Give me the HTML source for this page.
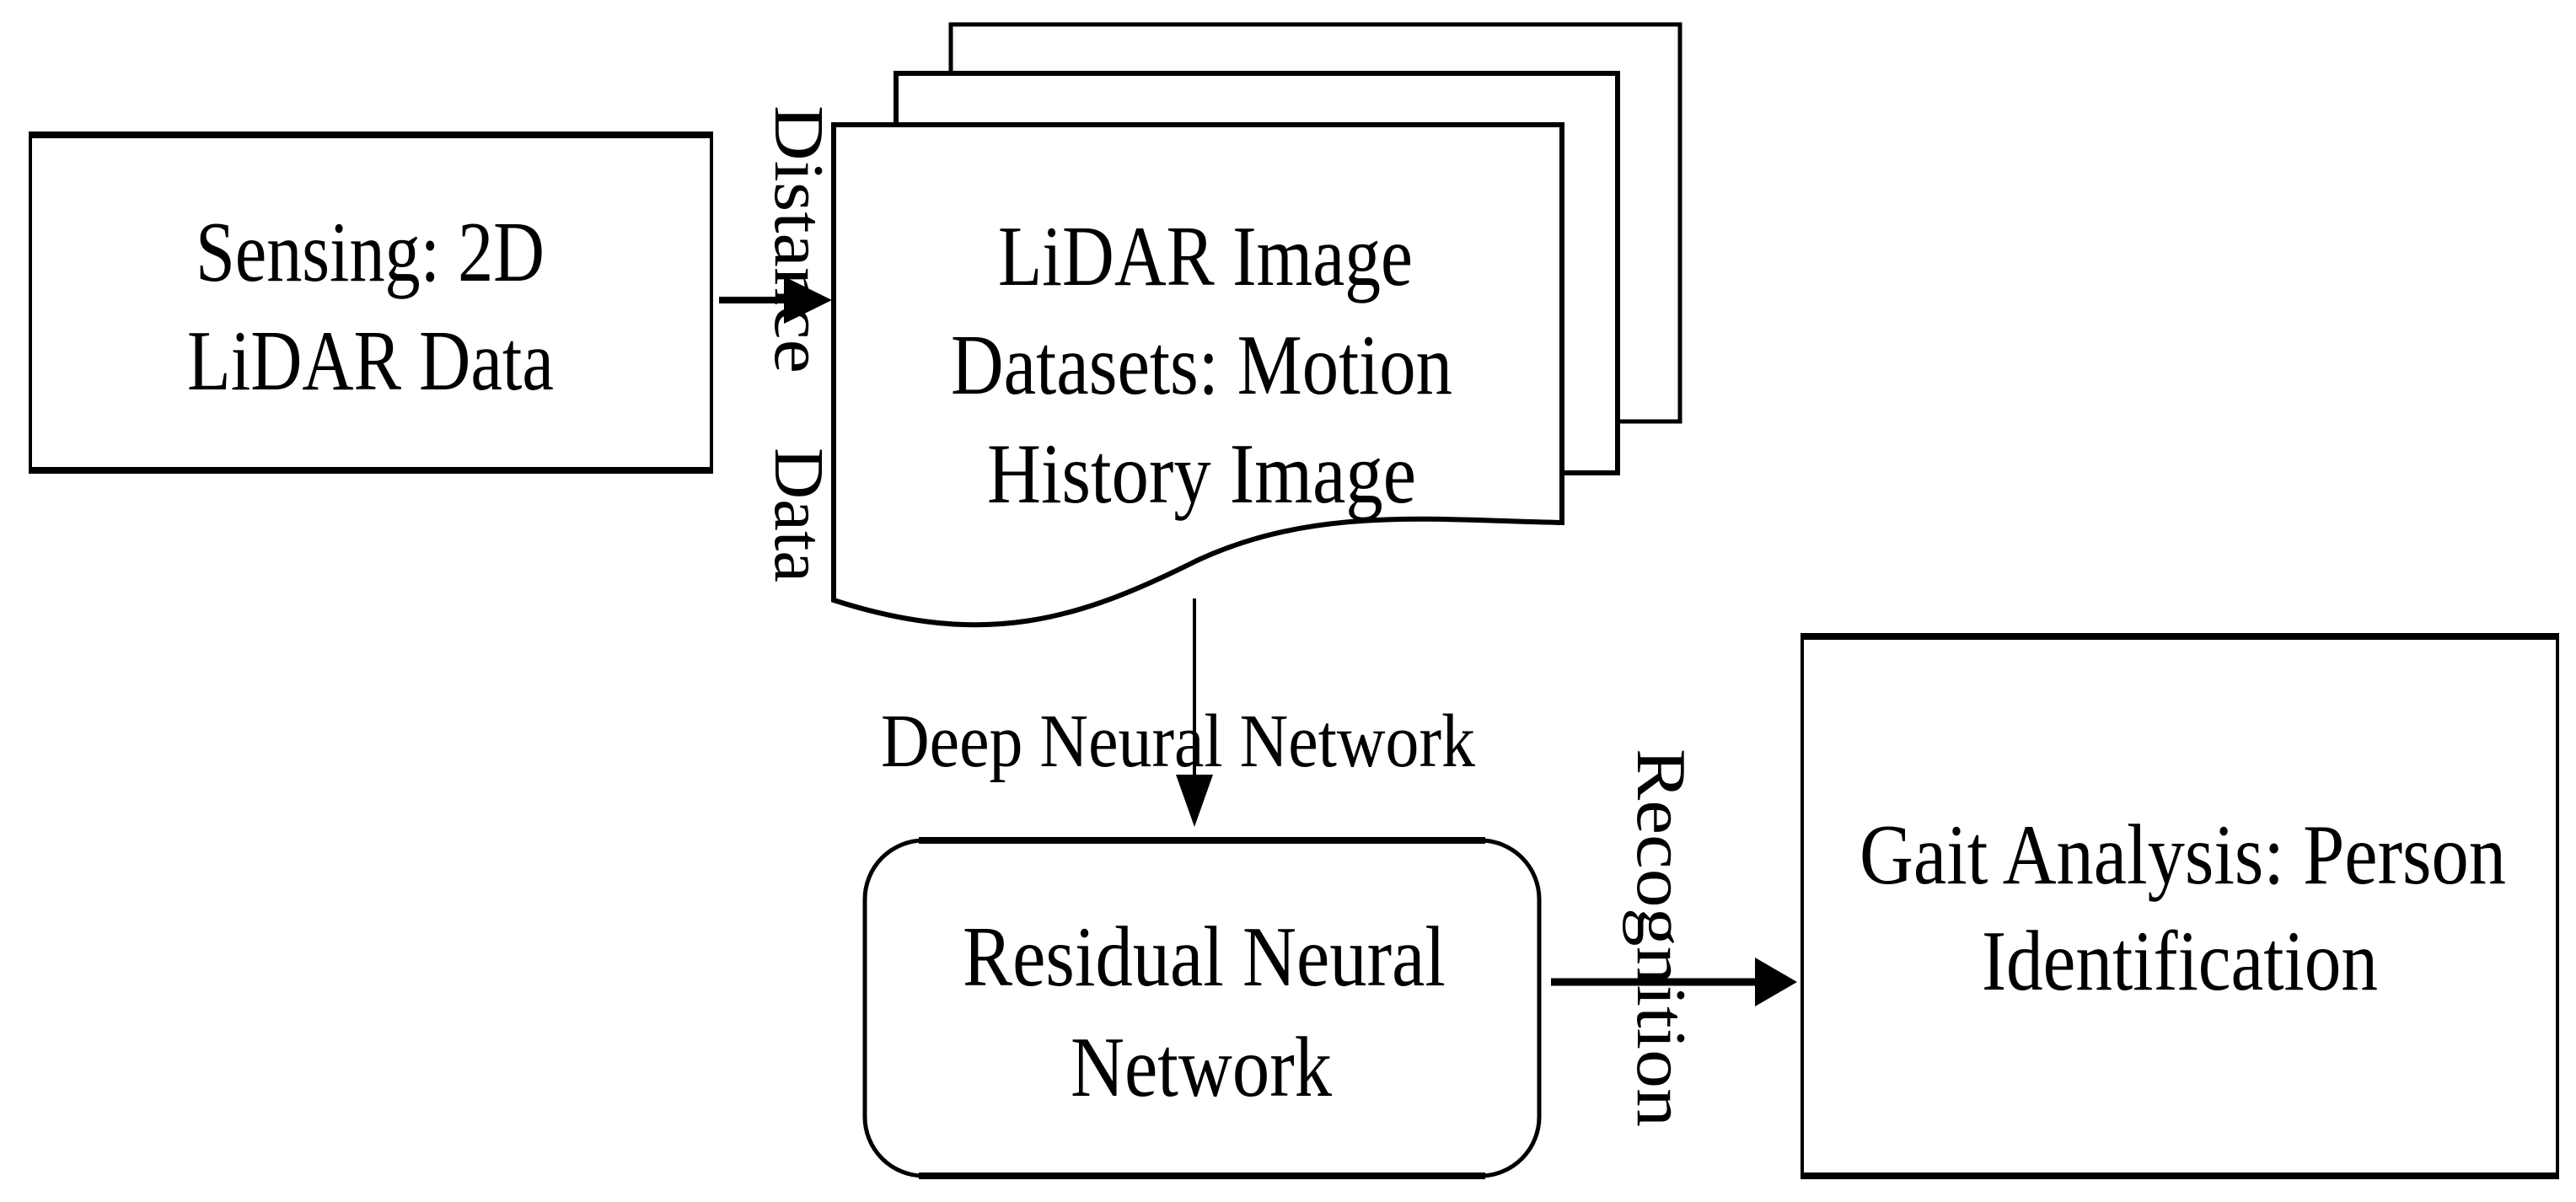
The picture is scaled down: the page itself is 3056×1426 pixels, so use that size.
<!DOCTYPE html>
<html><head><meta charset="utf-8"><style>
html,body{margin:0;padding:0;background:#fff;}
svg{display:block;}
text{font-family:"Liberation Serif",serif;fill:#000;}
</style></head><body>
<svg width="3056" height="1426" viewBox="0 0 3056 1426" xmlns="http://www.w3.org/2000/svg">
<rect width="3056" height="1426" fill="#fff"/>
<!-- Sensing box -->
<rect x="36" y="160" width="808" height="398" fill="#fff" stroke="#000" stroke-width="4"/>
<line x1="34" y1="160" x2="846" y2="160" stroke="#000" stroke-width="8"/>
<line x1="34" y1="558" x2="846" y2="558" stroke="#000" stroke-width="8"/>
<text x="232" y="333" font-size="102" textLength="414" lengthAdjust="spacingAndGlyphs">Sensing: 2D</text>
<text x="222" y="462" font-size="102" textLength="435" lengthAdjust="spacingAndGlyphs">LiDAR Data</text>

<!-- stacked pages -->
<rect x="1128" y="29" width="865" height="471" fill="#fff" stroke="#000" stroke-width="5"/>
<rect x="1063" y="87" width="856" height="474" fill="#fff" stroke="#000" stroke-width="6"/>
<path d="M989,148 L1853,148 L1853,620 C1700,617 1560,600 1420,665 C1280,735 1170,770 989,712 Z" fill="#fff" stroke="#000" stroke-width="6" stroke-linejoin="miter"/>
<text x="1184" y="338" font-size="102" textLength="492" lengthAdjust="spacingAndGlyphs">LiDAR Image</text>
<text x="1128" y="467" font-size="102" textLength="595" lengthAdjust="spacingAndGlyphs">Datasets: Motion</text>
<text x="1171" y="596" font-size="102" textLength="509" lengthAdjust="spacingAndGlyphs">History Image</text>

<!-- arrow 1 -->
<line x1="853" y1="356" x2="935" y2="356" stroke="#000" stroke-width="8"/>
<polygon points="930,328 987,356 930,384" fill="#000"/>
<text transform="translate(920,125) rotate(90)" font-size="84" textLength="318" lengthAdjust="spacingAndGlyphs">Distance</text>
<text transform="translate(920,531) rotate(90)" font-size="84" textLength="160" lengthAdjust="spacingAndGlyphs">Data</text>

<!-- arrow down -->
<line x1="1417" y1="710" x2="1417" y2="925" stroke="#000" stroke-width="4"/>
<polygon points="1395,919 1439,919 1417,981" fill="#000"/>
<text x="1045" y="909" font-size="90" textLength="705" lengthAdjust="spacingAndGlyphs">Deep Neural Network</text>

<!-- rounded box -->
<rect x="1026" y="997" width="800" height="398" rx="70" ry="70" fill="#fff" stroke="#000" stroke-width="5"/>
<line x1="1090" y1="997" x2="1762" y2="997" stroke="#000" stroke-width="8"/>
<line x1="1090" y1="1395" x2="1762" y2="1395" stroke="#000" stroke-width="8"/>
<text x="1142" y="1169" font-size="102" textLength="573" lengthAdjust="spacingAndGlyphs">Residual Neural</text>
<text x="1270" y="1300" font-size="102" textLength="310" lengthAdjust="spacingAndGlyphs">Network</text>

<!-- arrow right -->
<line x1="1840" y1="1165" x2="2090" y2="1165" stroke="#000" stroke-width="9"/>
<polygon points="2082,1136 2132,1165 2082,1194" fill="#000"/>
<text transform="translate(1943,888) rotate(90)" font-size="84" textLength="449" lengthAdjust="spacingAndGlyphs">Recognition</text>

<!-- Gait box -->
<rect x="2138" y="755" width="896" height="640" fill="#fff" stroke="#000" stroke-width="4"/>
<line x1="2136" y1="755" x2="3036" y2="755" stroke="#000" stroke-width="8"/>
<line x1="2136" y1="1395" x2="3036" y2="1395" stroke="#000" stroke-width="8"/>
<text x="2206" y="1048" font-size="102" textLength="767" lengthAdjust="spacingAndGlyphs">Gait Analysis: Person</text>
<text x="2351" y="1174" font-size="102" textLength="470" lengthAdjust="spacingAndGlyphs">Identification</text>
</svg>
</body></html>
